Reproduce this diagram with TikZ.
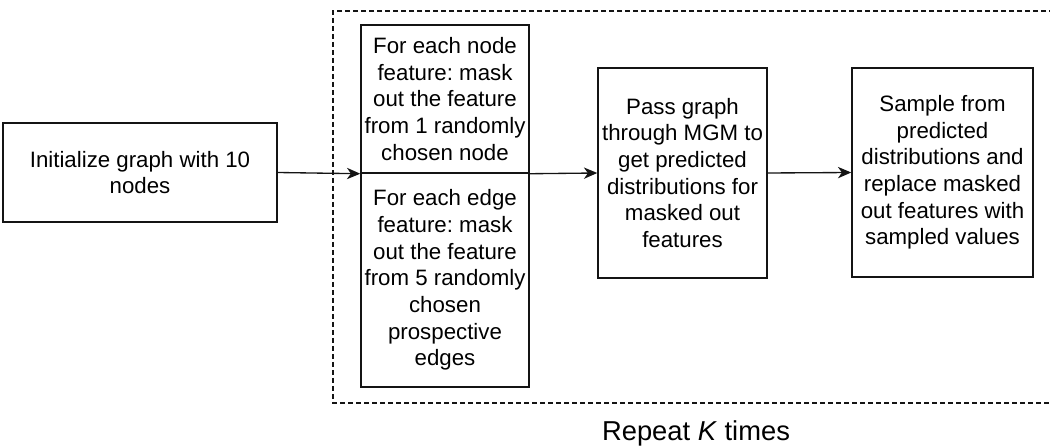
\documentclass[tikz,border=0pt]{standalone}
\usepackage{fontspec}
\setmainfont{Liberation Sans}
\usepackage{tikz}
\usetikzlibrary{arrows.meta}
\definecolor{inkgray}{HTML}{141414}
\frenchspacing

\begin{document}
\begin{tikzpicture}[x=0.75pt,y=-0.75pt,
    box/.style={draw=inkgray,line width=1.1pt,inner sep=0pt,align=center,
      font=\fontsize{16.7}{20}\selectfont},
    boxsize/.style 2 args={minimum width=#1*0.75pt,minimum height=#2*0.75pt},
    flow/.style={-{Stealth[length=10pt,width=8.5pt,inset=3pt]},line width=1pt,inkgray}]
  \useasboundingbox (0,0) rectangle (1050,448);
  \clip (0,0) rectangle (1050,448);
  % repeated block
  \draw[inkgray,line width=0.85pt,dash pattern=on 3.75pt off 2.25pt]
    (1070,11) -- (333,11) -- (333,403) -- (1070,403);
  \node[box,boxsize={274}{99}] (init) at (140,172.5)
    {Initialize graph with 10\\nodes};
  \node[box,boxsize={168}{148}] (nodemask) at (445,99)
    {For each node\\feature: mask\\out the feature\\from 1 randomly\\chosen node};
  \node[box,boxsize={168}{214}] (edgemask) at (445,280)
    {For each edge\\feature: mask\\out the feature\\from 5 randomly\\chosen\\prospective\\edges};
  \node[box,boxsize={169}{210}] (pass) at (682.5,173)
    {Pass graph\\through MGM to\\get predicted\\distributions for\\masked out\\features};
  \node[box,boxsize={181}{209}] (sample) at (942.5,172.5)
    {Sample from\\predicted\\distributions and\\replace masked\\out features with\\sampled values};
  \draw[flow] (init.east) -- (nodemask.south west);
  \draw[flow] (nodemask.south east) -- (pass.west);
  \draw[flow] (pass.east) -- (sample.west);
  \node[font=\fontsize{20.5}{24}\selectfont,inner sep=0pt] (repeat) at (696,433)
    {Repeat \textit{K} times};
\end{tikzpicture}
\end{document}
